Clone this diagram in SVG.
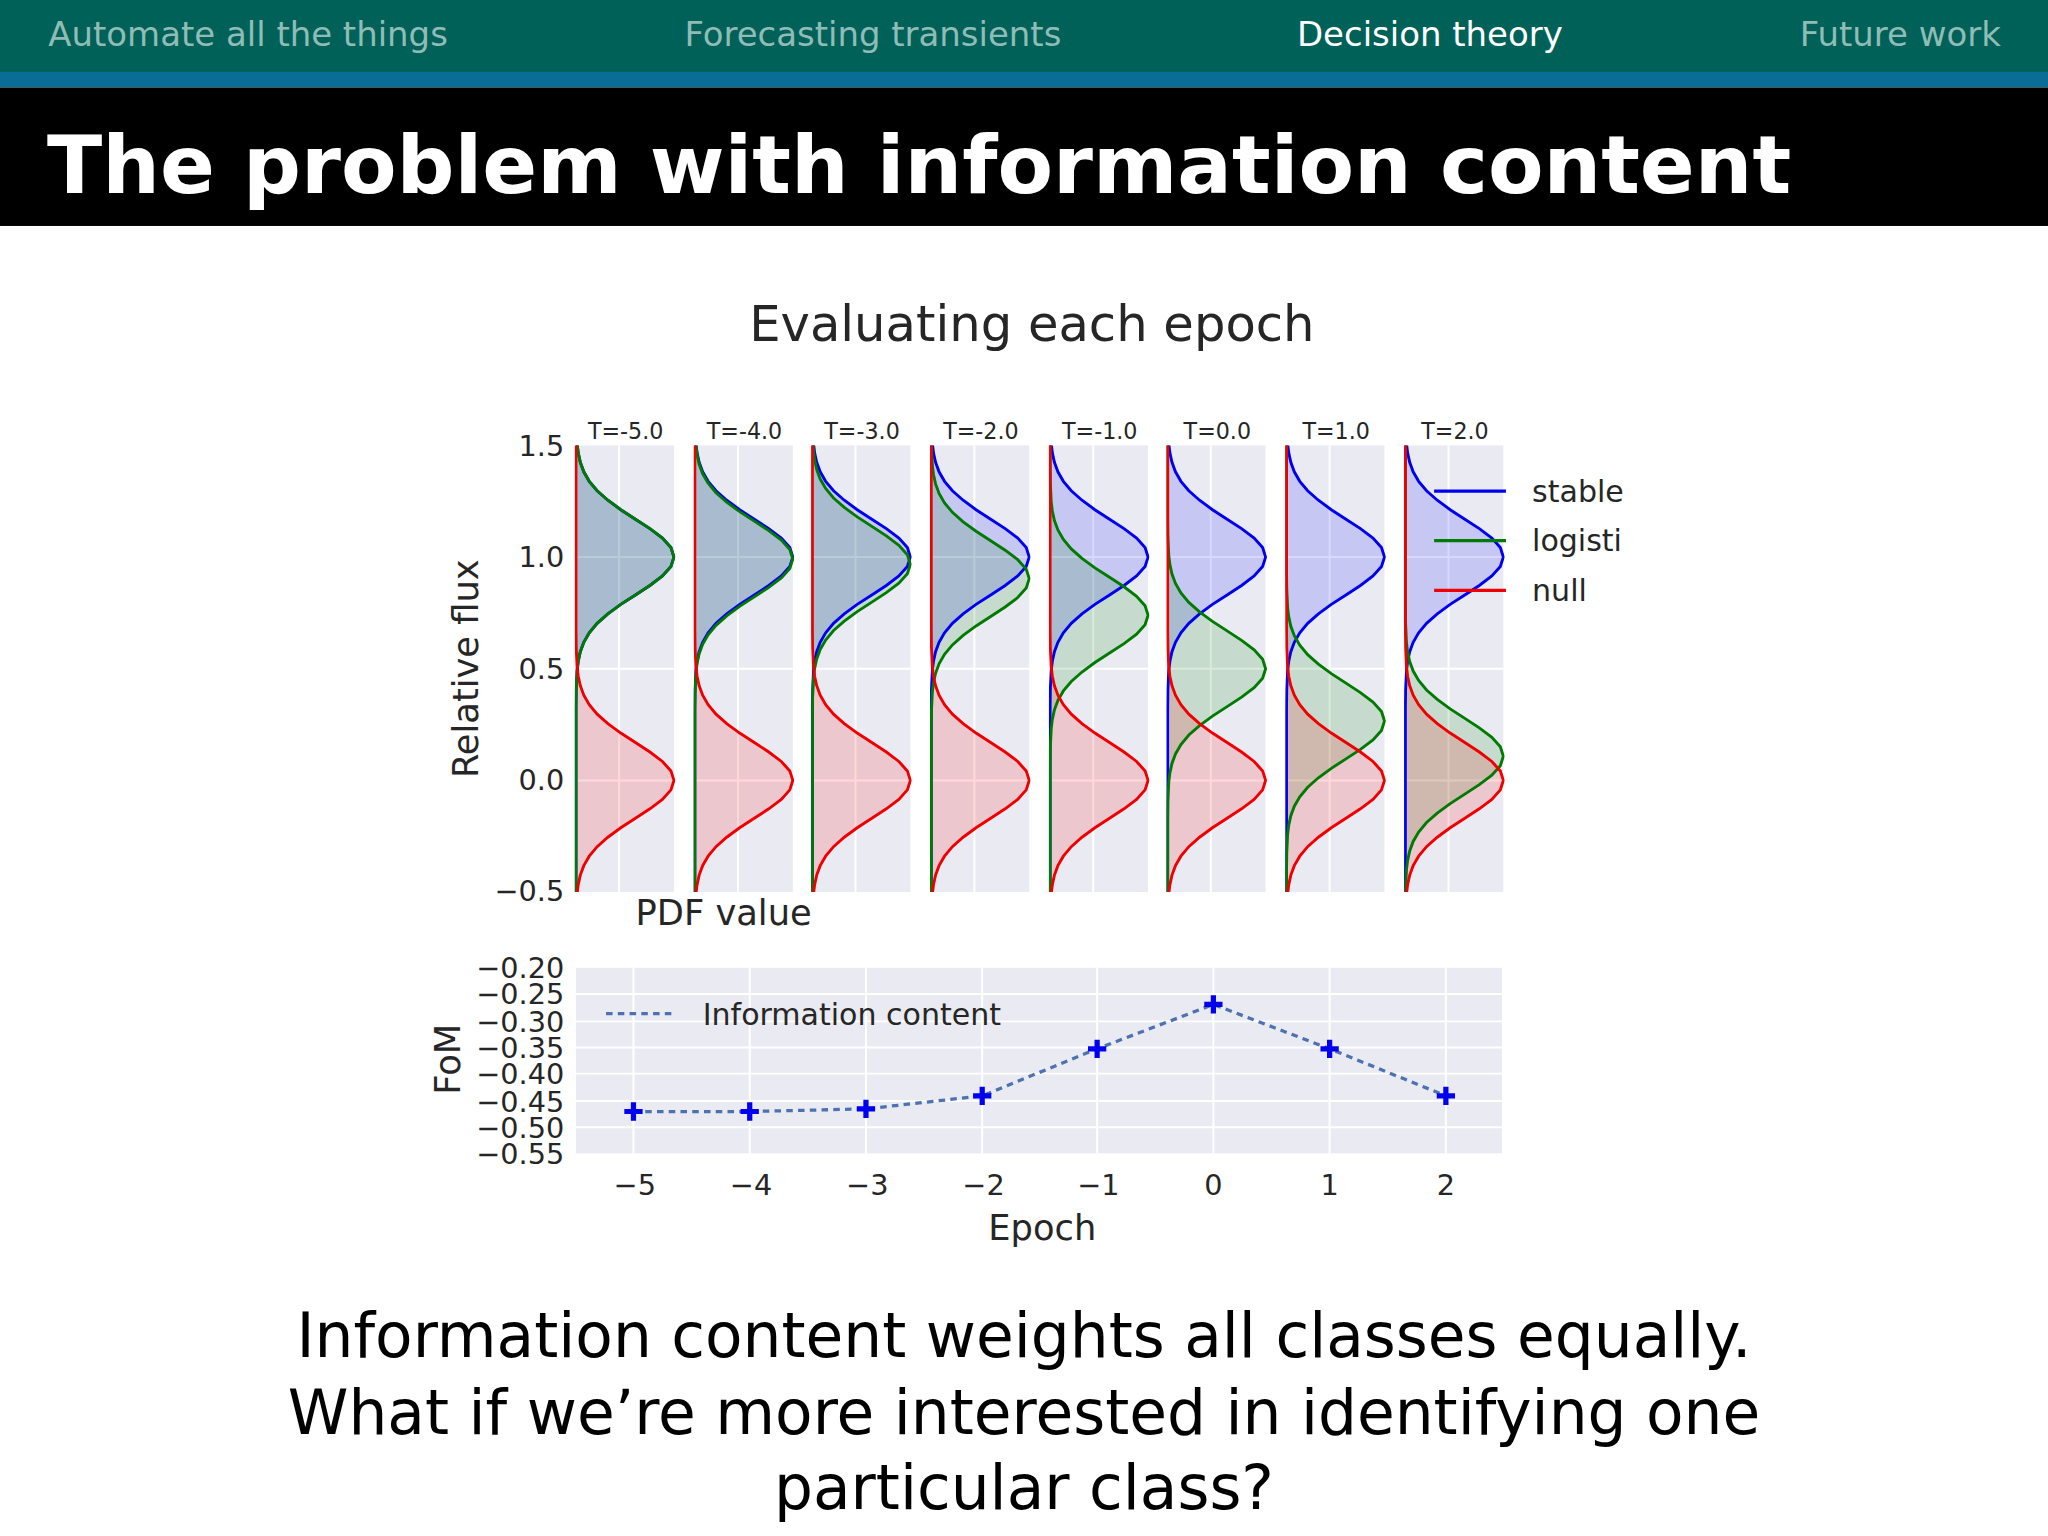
<svg xmlns="http://www.w3.org/2000/svg" xmlns:xlink="http://www.w3.org/1999/xlink" width="2048" height="1536" viewBox="0 0 2048 1536">
<style>
.nav{font-family:"DejaVu Sans",sans-serif;font-size:26px;fill:#8fbcb6}
.ax{font-family:"DejaVu Sans","Liberation Sans",sans-serif;fill:#262626}
.g{stroke:#fff;stroke-width:1.5}
.pb{fill:#eaeaf2}
.sb{fill:none;stroke:#0000ee;stroke-width:2.2}
.sg{fill:none;stroke:#007a00;stroke-width:2.2}
.sr{fill:none;stroke:#ee0000;stroke-width:2.2}
.fb{fill:#0000ff;fill-opacity:0.15}
.fg{fill:#008000;fill-opacity:0.15}
.fr{fill:#ff0000;fill-opacity:0.15}
</style>
<defs>
<path id="gs" d="M0,-400 L0,-116 L0.16,-101.5 L0.83,-87 L1.71,-79.75 L3.3,-72.5 L5.97,-65.25 L10.15,-58 L16.2,-50.75 L24.4,-43.5 L34.3,-36.25 L45.5,-29 L56.6,-21.75 L66.2,-14.5 L72.7,-7.25 L75,0 L72.7,7.25 L66.2,14.5 L56.6,21.75 L45.5,29 L34.3,36.25 L24.4,43.5 L16.2,50.75 L10.15,58 L5.97,65.25 L3.3,72.5 L1.71,79.75 L0.83,87 L0.16,101.5 L0,116 L0,400"/>
<clipPath id="pc" clipPathUnits="userSpaceOnUse"><rect x="-1" y="0" width="77" height="342"/></clipPath>
<path id="cross" d="M-7,0 H7 M0,-7 V7" stroke="#0000ee" stroke-width="4"/>
</defs>
<g transform="scale(1.30612)">
<rect width="1568" height="1176" fill="#fff"/>
<g id="header">
<rect x="0" y="0" width="1568" height="56" fill="#006158"/>
<rect x="0" y="55" width="1568" height="12" fill="#0a6d96"/>
<rect x="0" y="67" width="1568" height="106" fill="#000"/>
<text class="nav" x="37" y="35">Automate all the things</text>
<text class="nav" x="524" y="35">Forecasting transients</text>
<text class="nav" x="993" y="35" style="fill:#fff">Decision theory</text>
<text class="nav" x="1378" y="35">Future work</text>
<text x="36" y="148" style="font-family:'DejaVu Sans',sans-serif;font-weight:bold;font-size:62px;fill:#fff">The problem with information content</text>
</g>
<text class="ax" x="790" y="261" text-anchor="middle" font-size="38">Evaluating each epoch</text>
<g id="panels">
<g transform="translate(441,341)"><rect class="pb" width="75" height="342"/><line class="g" x1="33" y1="0" x2="33" y2="342"/><line class="g" x1="0" y1="85.5" x2="75" y2="85.5"/><line class="g" x1="0" y1="171" x2="75" y2="171"/><line class="g" x1="0" y1="256.5" x2="75" y2="256.5"/>
<g clip-path="url(#pc)"><use href="#gs" class="fb" transform="translate(0,85.5)"/><use href="#gs" class="fg" transform="translate(0,85.5)"/><use href="#gs" class="fr" transform="translate(0,256.5)"/><use href="#gs" class="sb" transform="translate(0,85.5)"/><use href="#gs" class="sg" transform="translate(0,85.5)"/><use href="#gs" class="sr" transform="translate(0,256.5)"/></g></g>
<g transform="translate(532,341)"><rect class="pb" width="75" height="342"/><line class="g" x1="33" y1="0" x2="33" y2="342"/><line class="g" x1="0" y1="85.5" x2="75" y2="85.5"/><line class="g" x1="0" y1="171" x2="75" y2="171"/><line class="g" x1="0" y1="256.5" x2="75" y2="256.5"/>
<g clip-path="url(#pc)"><use href="#gs" class="fb" transform="translate(0,85.5)"/><use href="#gs" class="fg" transform="translate(0,87)"/><use href="#gs" class="fr" transform="translate(0,256.5)"/><use href="#gs" class="sb" transform="translate(0,85.5)"/><use href="#gs" class="sg" transform="translate(0,87)"/><use href="#gs" class="sr" transform="translate(0,256.5)"/></g></g>
<g transform="translate(622,341)"><rect class="pb" width="75" height="342"/><line class="g" x1="33" y1="0" x2="33" y2="342"/><line class="g" x1="0" y1="85.5" x2="75" y2="85.5"/><line class="g" x1="0" y1="171" x2="75" y2="171"/><line class="g" x1="0" y1="256.5" x2="75" y2="256.5"/>
<g clip-path="url(#pc)"><use href="#gs" class="fb" transform="translate(0,85.5)"/><use href="#gs" class="fg" transform="translate(0,91)"/><use href="#gs" class="fr" transform="translate(0,256.5)"/><use href="#gs" class="sb" transform="translate(0,85.5)"/><use href="#gs" class="sg" transform="translate(0,91)"/><use href="#gs" class="sr" transform="translate(0,256.5)"/></g></g>
<g transform="translate(713,341)"><rect class="pb" width="75" height="342"/><line class="g" x1="33" y1="0" x2="33" y2="342"/><line class="g" x1="0" y1="85.5" x2="75" y2="85.5"/><line class="g" x1="0" y1="171" x2="75" y2="171"/><line class="g" x1="0" y1="256.5" x2="75" y2="256.5"/>
<g clip-path="url(#pc)"><use href="#gs" class="fb" transform="translate(0,85.5)"/><use href="#gs" class="fg" transform="translate(0,102)"/><use href="#gs" class="fr" transform="translate(0,256.5)"/><use href="#gs" class="sb" transform="translate(0,85.5)"/><use href="#gs" class="sg" transform="translate(0,102)"/><use href="#gs" class="sr" transform="translate(0,256.5)"/></g></g>
<g transform="translate(804,341)"><rect class="pb" width="75" height="342"/><line class="g" x1="33" y1="0" x2="33" y2="342"/><line class="g" x1="0" y1="85.5" x2="75" y2="85.5"/><line class="g" x1="0" y1="171" x2="75" y2="171"/><line class="g" x1="0" y1="256.5" x2="75" y2="256.5"/>
<g clip-path="url(#pc)"><use href="#gs" class="fb" transform="translate(0,85.5)"/><use href="#gs" class="fg" transform="translate(0,130)"/><use href="#gs" class="fr" transform="translate(0,256.5)"/><use href="#gs" class="sb" transform="translate(0,85.5)"/><use href="#gs" class="sg" transform="translate(0,130)"/><use href="#gs" class="sr" transform="translate(0,256.5)"/></g></g>
<g transform="translate(894,341)"><rect class="pb" width="75" height="342"/><line class="g" x1="33" y1="0" x2="33" y2="342"/><line class="g" x1="0" y1="85.5" x2="75" y2="85.5"/><line class="g" x1="0" y1="171" x2="75" y2="171"/><line class="g" x1="0" y1="256.5" x2="75" y2="256.5"/>
<g clip-path="url(#pc)"><use href="#gs" class="fb" transform="translate(0,85.5)"/><use href="#gs" class="fg" transform="translate(0,171)"/><use href="#gs" class="fr" transform="translate(0,256.5)"/><use href="#gs" class="sb" transform="translate(0,85.5)"/><use href="#gs" class="sg" transform="translate(0,171)"/><use href="#gs" class="sr" transform="translate(0,256.5)"/></g></g>
<g transform="translate(985,341)"><rect class="pb" width="75" height="342"/><line class="g" x1="33" y1="0" x2="33" y2="342"/><line class="g" x1="0" y1="85.5" x2="75" y2="85.5"/><line class="g" x1="0" y1="171" x2="75" y2="171"/><line class="g" x1="0" y1="256.5" x2="75" y2="256.5"/>
<g clip-path="url(#pc)"><use href="#gs" class="fb" transform="translate(0,85.5)"/><use href="#gs" class="fg" transform="translate(0,211)"/><use href="#gs" class="fr" transform="translate(0,256.5)"/><use href="#gs" class="sb" transform="translate(0,85.5)"/><use href="#gs" class="sg" transform="translate(0,211)"/><use href="#gs" class="sr" transform="translate(0,256.5)"/></g></g>
<g transform="translate(1076,341)"><rect class="pb" width="75" height="342"/><line class="g" x1="33" y1="0" x2="33" y2="342"/><line class="g" x1="0" y1="85.5" x2="75" y2="85.5"/><line class="g" x1="0" y1="171" x2="75" y2="171"/><line class="g" x1="0" y1="256.5" x2="75" y2="256.5"/>
<g clip-path="url(#pc)"><use href="#gs" class="fb" transform="translate(0,85.5)"/><use href="#gs" class="fg" transform="translate(0,238)"/><use href="#gs" class="fr" transform="translate(0,256.5)"/><use href="#gs" class="sb" transform="translate(0,85.5)"/><use href="#gs" class="sg" transform="translate(0,238)"/><use href="#gs" class="sr" transform="translate(0,256.5)"/></g></g>
</g>
<g id="panel-labels" class="ax" font-size="17" text-anchor="middle">
<text x="479" y="336">T=-5.0</text><text x="570" y="336">T=-4.0</text><text x="660" y="336">T=-3.0</text><text x="751" y="336">T=-2.0</text>
<text x="842" y="336">T=-1.0</text><text x="932" y="336">T=0.0</text><text x="1023" y="336">T=1.0</text><text x="1114" y="336">T=2.0</text>
</g>
<g id="yaxis1" class="ax" font-size="22" text-anchor="end">
<text x="432" y="349">1.5</text><text x="432" y="434">1.0</text><text x="432" y="520">0.5</text><text x="432" y="605">0.0</text><text x="432" y="690">−0.5</text>
<text transform="translate(366,512) rotate(-90)" text-anchor="middle" font-size="27">Relative flux</text>
<text x="554" y="708" text-anchor="middle" font-size="27">PDF value</text>
</g>
<g id="legend" class="ax" font-size="23">
<line x1="1098" y1="376" x2="1153" y2="376" stroke="#0000ee" stroke-width="2.5"/><text x="1173" y="384">stable</text>
<line x1="1098" y1="414" x2="1153" y2="414" stroke="#007a00" stroke-width="2.5"/><text x="1173" y="422">logisti</text>
<line x1="1098" y1="452" x2="1153" y2="452" stroke="#ee0000" stroke-width="2.5"/><text x="1173" y="460">null</text>
</g>
<g id="fom-plot">
<rect class="pb" x="441" y="741" width="709" height="142"/>
<g class="g">
<line x1="441" y1="761" x2="1150" y2="761"/><line x1="441" y1="782" x2="1150" y2="782"/><line x1="441" y1="802" x2="1150" y2="802"/><line x1="441" y1="822" x2="1150" y2="822"/><line x1="441" y1="843" x2="1150" y2="843"/><line x1="441" y1="863" x2="1150" y2="863"/>
<line x1="485" y1="741" x2="485" y2="883"/><line x1="574" y1="741" x2="574" y2="883"/><line x1="663" y1="741" x2="663" y2="883"/><line x1="752" y1="741" x2="752" y2="883"/><line x1="840" y1="741" x2="840" y2="883"/><line x1="929" y1="741" x2="929" y2="883"/><line x1="1018" y1="741" x2="1018" y2="883"/><line x1="1107" y1="741" x2="1107" y2="883"/>
</g>
<polyline points="485,851 574,851 663,849 752,839 840,803 929,769 1018,803 1107,839" fill="none" stroke="#4c72b0" stroke-width="2.5" stroke-dasharray="5,4"/>
<use href="#cross" x="485" y="851"/><use href="#cross" x="574" y="851"/><use href="#cross" x="663" y="849"/><use href="#cross" x="752" y="839"/><use href="#cross" x="840" y="803"/><use href="#cross" x="929" y="769"/><use href="#cross" x="1018" y="803"/><use href="#cross" x="1107" y="839"/>
<line x1="464" y1="776" x2="518" y2="776" stroke="#4c72b0" stroke-width="2.5" stroke-dasharray="5,4"/>
<text class="ax" x="538" y="785" font-size="23">Information content</text>
<g class="ax" font-size="22" text-anchor="end">
<text x="432" y="749">−0.20</text><text x="432" y="769">−0.25</text><text x="432" y="790">−0.30</text><text x="432" y="810">−0.35</text><text x="432" y="830">−0.40</text><text x="432" y="851">−0.45</text><text x="432" y="871">−0.50</text><text x="432" y="891">−0.55</text>
</g>
<g class="ax" font-size="22" text-anchor="middle">
<text x="486" y="915">−5</text><text x="575" y="915">−4</text><text x="664" y="915">−3</text><text x="753" y="915">−2</text><text x="841" y="915">−1</text><text x="929" y="915">0</text><text x="1018" y="915">1</text><text x="1107" y="915">2</text>
<text x="798" y="949" font-size="27">Epoch</text>
<text transform="translate(352,811) rotate(-90)" font-size="27">FoM</text>
</g>
</g>
<g id="caption" style="font-family:'DejaVu Sans',sans-serif;font-size:47px;fill:#000" text-anchor="middle">
<text x="784" y="1039">Information content weights all classes equally.</text>
<text x="784" y="1098">What if we’re more interested in identifying one</text>
<text x="784" y="1155">particular class?</text>
</g>
</g>
</svg>
